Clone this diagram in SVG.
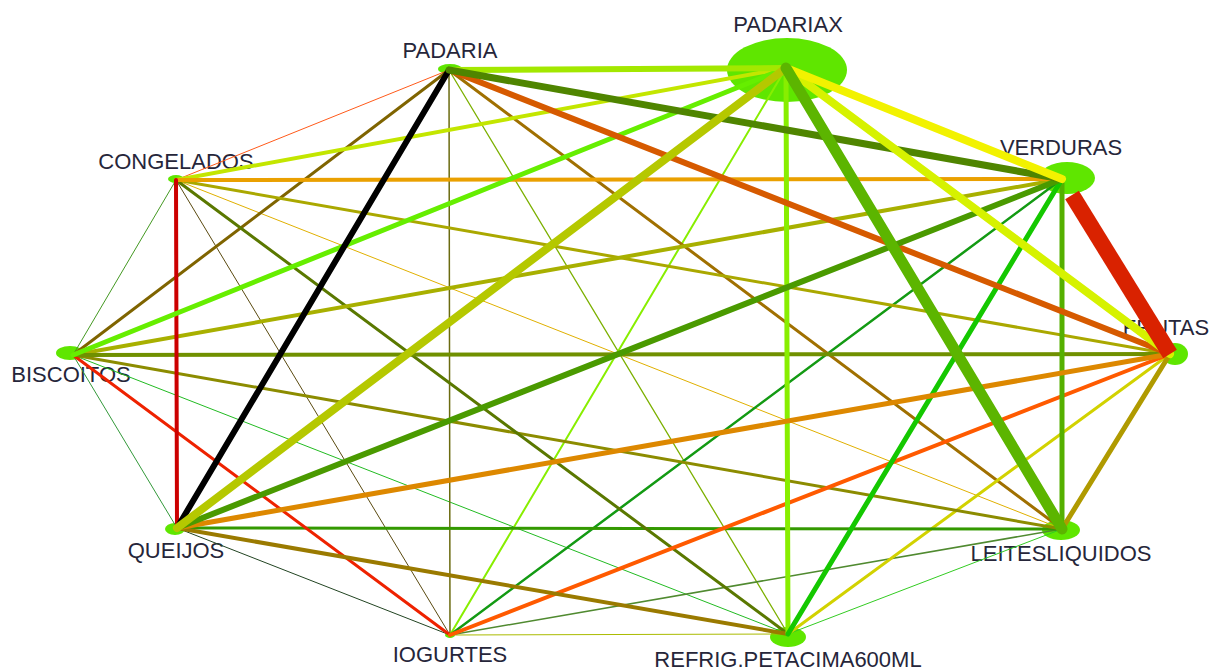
<svg xmlns="http://www.w3.org/2000/svg" width="1211" height="672" viewBox="0 0 1211 672">
<style>
.n{fill:#5fe600;stroke:none}
.t{font-family:"Liberation Sans",Arial,sans-serif;font-size:22px;fill:#26263a;text-anchor:middle}
#edges line{stroke-linecap:round;fill:none}
</style>
<rect width="1211" height="672" fill="#ffffff"/>
<g id="node-PADARIA"><ellipse class="n" cx="450" cy="69" rx="12" ry="5"/><text class="t" x="450" y="58">PADARIA</text></g>
<g id="node-PADARIAX"><ellipse class="n" cx="787" cy="70" rx="60" ry="32"/><text class="t" x="788" y="32">PADARIAX</text></g>
<g id="node-VERDURAS"><ellipse class="n" cx="1067" cy="178" rx="28" ry="16"/><text class="t" x="1061" y="155">VERDURAS</text></g>
<g id="node-FRUTAS"><ellipse class="n" cx="1175" cy="354" rx="13" ry="11"/><text class="t" x="1166" y="335">FRUTAS</text></g>
<g id="node-LEITESLIQUIDOS"><ellipse class="n" cx="1061" cy="530" rx="19" ry="10"/><text class="t" x="1061" y="561">LEITESLIQUIDOS</text></g>
<g id="node-REFRIG"><ellipse class="n" cx="788" cy="637" rx="18" ry="10"/><text class="t" x="788" y="667">REFRIG.PETACIMA600ML</text></g>
<g id="node-IOGURTES"><ellipse class="n" cx="450" cy="635" rx="5" ry="3"/><text class="t" x="450" y="662">IOGURTES</text></g>
<g id="node-QUEIJOS"><ellipse class="n" cx="175" cy="529" rx="10" ry="6"/><text class="t" x="176" y="558">QUEIJOS</text></g>
<g id="node-BISCOITOS"><ellipse class="n" cx="70" cy="353" rx="14" ry="7"/><text class="t" x="71" y="382">BISCOITOS</text></g>
<g id="node-CONGELADOS"><ellipse class="n" cx="176" cy="179" rx="8" ry="4"/><text class="t" x="176" y="169">CONGELADOS</text></g>
<g id="edges">
<line x1="449" y1="70" x2="176" y2="180" stroke="#ff5a1a" stroke-width="1"/>
<line x1="1062" y1="529" x2="788" y2="634" stroke="#33cc22" stroke-width="1"/>
<line x1="1062" y1="529" x2="176" y2="180" stroke="#e0b000" stroke-width="1"/>
<line x1="788" y1="634" x2="450" y2="635" stroke="#aabb00" stroke-width="1"/>
<line x1="788" y1="634" x2="73" y2="355" stroke="#22bb22" stroke-width="1"/>
<line x1="450" y1="635" x2="177" y2="528" stroke="#224422" stroke-width="1"/>
<line x1="450" y1="635" x2="176" y2="180" stroke="#5a4a10" stroke-width="1"/>
<line x1="177" y1="528" x2="73" y2="355" stroke="#33993a" stroke-width="1"/>
<line x1="73" y1="355" x2="176" y2="180" stroke="#449922" stroke-width="1"/>
<line x1="449" y1="70" x2="788" y2="634" stroke="#7cb000" stroke-width="1.3"/>
<line x1="449" y1="70" x2="450" y2="635" stroke="#6b6b10" stroke-width="1.5"/>
<line x1="1062" y1="529" x2="450" y2="635" stroke="#508a30" stroke-width="1.5"/>
<line x1="786" y1="68" x2="450" y2="635" stroke="#88ee00" stroke-width="2"/>
<line x1="1062" y1="179" x2="450" y2="635" stroke="#139a13" stroke-width="2.5"/>
<line x1="449" y1="70" x2="1062" y2="529" stroke="#a07000" stroke-width="3"/>
<line x1="449" y1="70" x2="73" y2="355" stroke="#7f6400" stroke-width="3"/>
<line x1="1170" y1="354" x2="788" y2="634" stroke="#d2d200" stroke-width="3"/>
<line x1="1170" y1="354" x2="176" y2="180" stroke="#aaa800" stroke-width="3"/>
<line x1="1062" y1="529" x2="177" y2="528" stroke="#339900" stroke-width="3"/>
<line x1="1062" y1="529" x2="73" y2="355" stroke="#8c8c00" stroke-width="3"/>
<line x1="788" y1="634" x2="176" y2="180" stroke="#5a7800" stroke-width="3"/>
<line x1="450" y1="635" x2="73" y2="355" stroke="#ee2200" stroke-width="3"/>
<line x1="786" y1="68" x2="176" y2="180" stroke="#c3e600" stroke-width="4"/>
<line x1="1062" y1="179" x2="73" y2="355" stroke="#a8b000" stroke-width="4"/>
<line x1="1062" y1="179" x2="176" y2="180" stroke="#eaa000" stroke-width="4"/>
<line x1="1170" y1="354" x2="450" y2="635" stroke="#ff5a00" stroke-width="4"/>
<line x1="1170" y1="354" x2="73" y2="355" stroke="#709000" stroke-width="4"/>
<line x1="788" y1="634" x2="177" y2="528" stroke="#9a7a00" stroke-width="4"/>
<line x1="177" y1="528" x2="176" y2="180" stroke="#cc0000" stroke-width="4"/>
<line x1="786" y1="68" x2="73" y2="355" stroke="#66ee00" stroke-width="5"/>
<line x1="786" y1="68" x2="788" y2="634" stroke="#88ee00" stroke-width="5"/>
<line x1="1062" y1="179" x2="1062" y2="529" stroke="#55b000" stroke-width="5"/>
<line x1="1062" y1="179" x2="788" y2="634" stroke="#14c800" stroke-width="5"/>
<line x1="1170" y1="354" x2="1062" y2="529" stroke="#b09a00" stroke-width="5"/>
<line x1="1170" y1="354" x2="177" y2="528" stroke="#dd8800" stroke-width="5"/>
<line x1="449" y1="70" x2="786" y2="68" stroke="#a3e800" stroke-width="6"/>
<line x1="449" y1="70" x2="1170" y2="354" stroke="#d65a00" stroke-width="6"/>
<line x1="449" y1="70" x2="177" y2="528" stroke="#000000" stroke-width="6"/>
<line x1="1062" y1="179" x2="177" y2="528" stroke="#4a9a00" stroke-width="6"/>
<line x1="449" y1="70" x2="1062" y2="179" stroke="#4f8500" stroke-width="7"/>
<line x1="786" y1="68" x2="177" y2="528" stroke="#b5c800" stroke-width="8"/>
<line x1="786" y1="68" x2="1170" y2="354" stroke="#d6f200" stroke-width="8"/>
<line x1="786" y1="68" x2="1062" y2="179" stroke="#f2f200" stroke-width="8"/>
<line x1="786" y1="68" x2="1062" y2="529" stroke="#5cb500" stroke-width="11"/>
<line x1="1072" y1="195" x2="1170" y2="354" stroke="#d92200" stroke-width="16" style="stroke-linecap:butt"/>
</g>
</svg>
